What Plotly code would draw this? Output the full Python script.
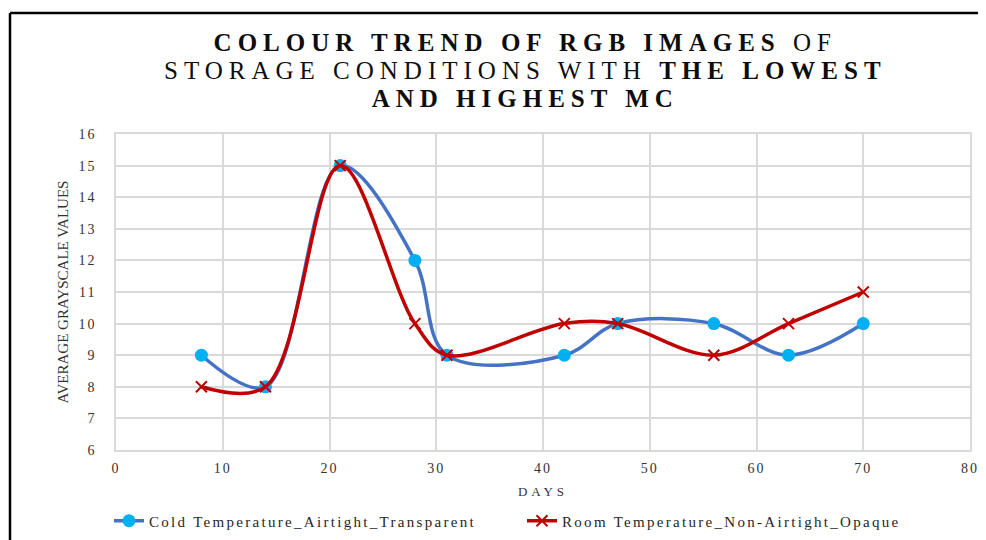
import plotly.graph_objects as go

days = [8, 14, 21, 28, 31, 42, 47, 56, 63, 70]
cold = [9, 8, 15, 12, 9, 9, 10, 10, 9, 10]
room = [8, 8, 15, 10, 9, 10, 10, 9, 10, 11]
x_ticks = [0, 10, 20, 30, 40, 50, 60, 70, 80]
y_ticks = [6, 7, 8, 9, 10, 11, 12, 13, 14, 15, 16]
title_text = ("<b>COLOUR TREND OF RGB IMAGES</b> OF<br>"
              "STORAGE CONDITIONS WITH <b>THE LOWEST</b><br>"
              "<b>AND HIGHEST MC</b>")

FONT = "Liberation Serif, Times New Roman, serif"

# figure geometry (page has an 8px body margin)
W, H = 978, 532
L, R, T, B = 108, 16, 126, 90
PW, PH = W - L - R, H - T - B
TITLE_SIZE = 25
TITLE_GAP = 28


def px(x):
    return (x - L) / PW


def py(y):
    return (H - B - y) / PH


fig = go.Figure()
fig.add_trace(go.Scatter(
    x=days, y=cold, mode="lines+markers",
    name="Cold Temperature_Airtight_Transparent",
    line=dict(color="#4472C4", width=3.5, shape="spline", smoothing=1.0),
    marker=dict(symbol="circle", size=13, color="#00B0F0"),
))
fig.add_trace(go.Scatter(
    x=days, y=room, mode="lines+markers",
    name="Room Temperature_Non-Airtight_Opaque",
    line=dict(color="#C00000", width=3.5, shape="spline", smoothing=1.0),
    marker=dict(symbol="x-thin", size=11, color="#C00000",
                line=dict(color="#C00000", width=2)),
))

fig.update_layout(
    width=W, height=H,
    paper_bgcolor="white", plot_bgcolor="white",
    margin=dict(l=L, r=R, t=T, b=B, autoexpand=False),
    font=dict(family=FONT, color="#333333", size=14),
    showlegend=True,
    legend=dict(x=px(101), y=py(513), orientation="h", yanchor="middle", xanchor="left",
                bgcolor="rgba(0,0,0,0)", entrywidth=368, entrywidthmode="pixels",
                font=dict(family=FONT, size=15, color="#262626")),
    xaxis=dict(range=[0, 80], tickvals=x_ticks, showgrid=True,
               gridcolor="#D9D9D9", gridwidth=1.5, zeroline=False,
               showline=True, linecolor="#D9D9D9", linewidth=1.5, mirror=True,
               ticks="", tickfont=dict(size=14, family=FONT, color="#333333"),
               ticklabelstandoff=4,
               title=dict(text="DAYS", font=dict(size=13, family=FONT, color="#333333"),
                          standoff=12)),
    yaxis=dict(range=[6, 16], tickvals=y_ticks, showgrid=True,
               gridcolor="#D9D9D9", gridwidth=1.5, zeroline=False,
               showline=True, linecolor="#D9D9D9", linewidth=1.5, mirror=True,
               ticks="", tickfont=dict(size=14, family=FONT, color="#333333"),
               ticklabelstandoff=15,
               title=dict(text="AVERAGE GRAYSCALE VALUES",
                          font=dict(size=15, family=FONT, color="#333333"), standoff=10)),
)

# title: one text block; line spacing tightened in post script
fig.add_annotation(text=title_text, xref="paper", yref="paper",
                   x=px(517), y=py(35 + 1.3 * TITLE_SIZE), xanchor="center", yanchor="middle",
                   showarrow=False,
                   font=dict(family=FONT, size=TITLE_SIZE, color="#0d0d0d"))

# outer border lines (top and left)
fig.add_shape(type="line", xref="paper", yref="paper",
              x0=px(2), x1=px(W), y0=py(5), y1=py(5),
              line=dict(color="black", width=2.5))
fig.add_shape(type="line", xref="paper", yref="paper",
              x0=px(2), x1=px(2), y0=py(5), y1=py(H),
              line=dict(color="black", width=2.5))

js = """
var gd = document.getElementById('{plot_id}');
var st = document.createElement('style');
st.textContent =
  '.js-plotly-plot .annotation-text { letter-spacing: 6px; }' +
  '.js-plotly-plot .legendtext, .js-plotly-plot .infolayer .legend text { letter-spacing: 2.3px; }' +
  '.js-plotly-plot .xtick text, .js-plotly-plot .ytick text { letter-spacing: 2px; }' +
  '.js-plotly-plot .xtitle { letter-spacing: 4px; }';
document.head.appendChild(st);
function apply() {
  gd.querySelectorAll('.annotation-text tspan.line').forEach(function(t, i){
    t.setAttribute('dy', (i * GAP) + 'px');
  });
}
apply();
gd.on('plotly_afterplot', apply);
setTimeout(apply, 50);
setTimeout(apply, 300);
""".replace("GAP", str(TITLE_GAP))

fig.write_html("out.html", post_script=js)
